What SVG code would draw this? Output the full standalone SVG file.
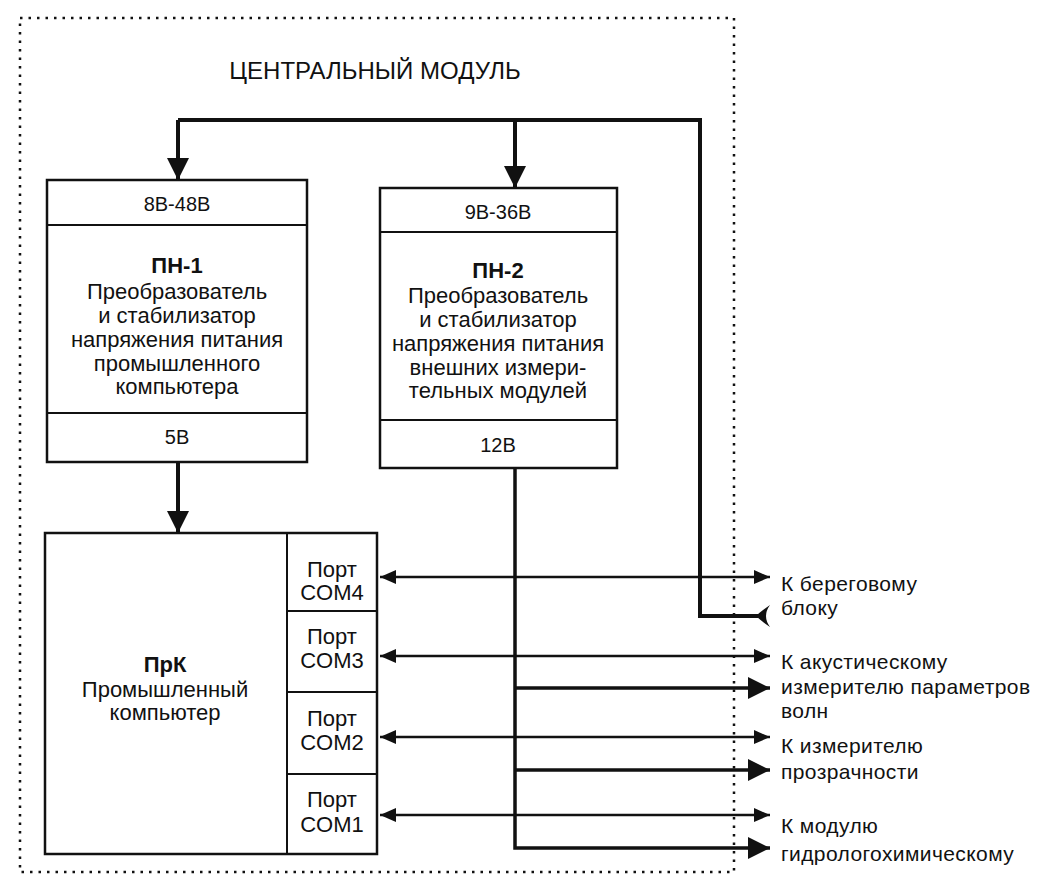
<svg xmlns="http://www.w3.org/2000/svg" width="1038" height="891" viewBox="0 0 1038 891">
<style>
text{font-family:"Liberation Sans",Arial,sans-serif;fill:#111}
.t{font-size:22px;text-anchor:middle}
.n{font-size:20px;text-anchor:middle}
.b{font-weight:bold}
.l{font-size:21px;letter-spacing:0.4px}
.box{fill:#fff;stroke:#111;stroke-width:2.5}
.div{stroke:#111;stroke-width:2}
.bus{fill:none;stroke:#111;stroke-width:4}
.com{fill:none;stroke:#111;stroke-width:2.5}
.pw{fill:none;stroke:#111;stroke-width:3.5}
</style>
<defs>
<marker id="big" markerUnits="userSpaceOnUse" markerWidth="24" markerHeight="24" refX="22" refY="11" orient="auto"><path d="M0,0 L22,11 L0,22 Z" fill="#111"/></marker>
<marker id="sm" markerUnits="userSpaceOnUse" markerWidth="18" markerHeight="16" refX="16" refY="7" orient="auto-start-reverse"><path d="M0,0 L16,7 L0,14 Z" fill="#111"/></marker>
</defs>
<rect x="20" y="18" width="714" height="854" fill="none" stroke="#111" stroke-width="2.5" stroke-dasharray="2.5 6"/>
<text x="375" y="79" style="font-size:24px;text-anchor:middle">ЦЕНТРАЛЬНЫЙ МОДУЛЬ</text>
<g id="connectors">
<path class="bus" d="M178,120 H700 V616 H758"/>
<path class="bus" d="M178,120 V180" marker-end="url(#big)"/>
<path class="bus" d="M515,120 V188" marker-end="url(#big)"/>
<path class="bus" d="M178,462 V533" marker-end="url(#big)"/>
<path d="M770,605 Q760,612 756,616 Q760,620 770,627 Q762,616 770,605 Z" fill="#111"/>
<path class="pw" d="M515,468 V848 H770" marker-end="url(#big)"/>
<path class="pw" d="M515,688 H770" marker-end="url(#big)"/>
<path class="pw" d="M515,770 H770" marker-end="url(#big)"/>
<path class="com" d="M380,577 H770" marker-start="url(#sm)" marker-end="url(#sm)"/>
<path class="com" d="M380,656 H770" marker-start="url(#sm)" marker-end="url(#sm)"/>
<path class="com" d="M380,737 H770" marker-start="url(#sm)" marker-end="url(#sm)"/>
<path class="com" d="M380,815 H770" marker-start="url(#sm)" marker-end="url(#sm)"/>
</g>
<g id="pn1">
<rect class="box" x="47" y="180" width="260" height="282"/>
<line class="div" x1="47" y1="225" x2="307" y2="225"/>
<line class="div" x1="47" y1="413" x2="307" y2="413"/>
<text class="n" x="177" y="211">8В-48В</text>
<text class="t b" x="177" y="273">ПН-1</text>
<text class="t" x="177" y="299">Преобразователь</text>
<text class="t" x="177" y="323">и стабилизатор</text>
<text class="t" x="177" y="347">напряжения питания</text>
<text class="t" x="177" y="371">промышленного</text>
<text class="t" x="177" y="394">компьютера</text>
<text class="n" x="177" y="444">5В</text>
</g>
<g id="pn2">
<rect class="box" x="380" y="188" width="237" height="280"/>
<line class="div" x1="380" y1="232" x2="617" y2="232"/>
<line class="div" x1="380" y1="420" x2="617" y2="420"/>
<text class="n" x="498" y="219">9В-36В</text>
<text class="t b" x="498" y="278">ПН-2</text>
<text class="t" x="498" y="303">Преобразователь</text>
<text class="t" x="498" y="327">и стабилизатор</text>
<text class="t" x="498" y="351">напряжения питания</text>
<text class="t" x="498" y="375">внешних измери-</text>
<text class="t" x="498" y="398">тельных модулей</text>
<text class="n" x="498" y="452">12В</text>
</g>
<g id="prk">
<rect class="box" x="45" y="533" width="332" height="321"/>
<line class="div" x1="287" y1="533" x2="287" y2="854"/>
<line class="div" x1="287" y1="611" x2="377" y2="611"/>
<line class="div" x1="287" y1="692" x2="377" y2="692"/>
<line class="div" x1="287" y1="774" x2="377" y2="774"/>
<text class="t b" x="165" y="672">ПрК</text>
<text class="t" x="165" y="697">Промышленный</text>
<text class="t" x="165" y="720">компьютер</text>
<text class="t" x="332" y="577">Порт</text>
<text class="t" x="332" y="600">COM4</text>
<text class="t" x="332" y="644">Порт</text>
<text class="t" x="332" y="668">COM3</text>
<text class="t" x="332" y="726">Порт</text>
<text class="t" x="332" y="750">COM2</text>
<text class="t" x="332" y="807">Порт</text>
<text class="t" x="332" y="832">COM1</text>
</g>
<g id="labels">
<text class="l" x="781" y="591">К береговому</text>
<text class="l" x="781" y="615">блоку</text>
<text class="l" x="781" y="669">К акустическому</text>
<text class="l" x="781" y="694">измерителю параметров</text>
<text class="l" x="781" y="718">волн</text>
<text class="l" x="781" y="753">К измерителю</text>
<text class="l" x="781" y="779">прозрачности</text>
<text class="l" x="781" y="833">К модулю</text>
<text class="l" x="781" y="861">гидрологохимическому</text>
</g>
</svg>
